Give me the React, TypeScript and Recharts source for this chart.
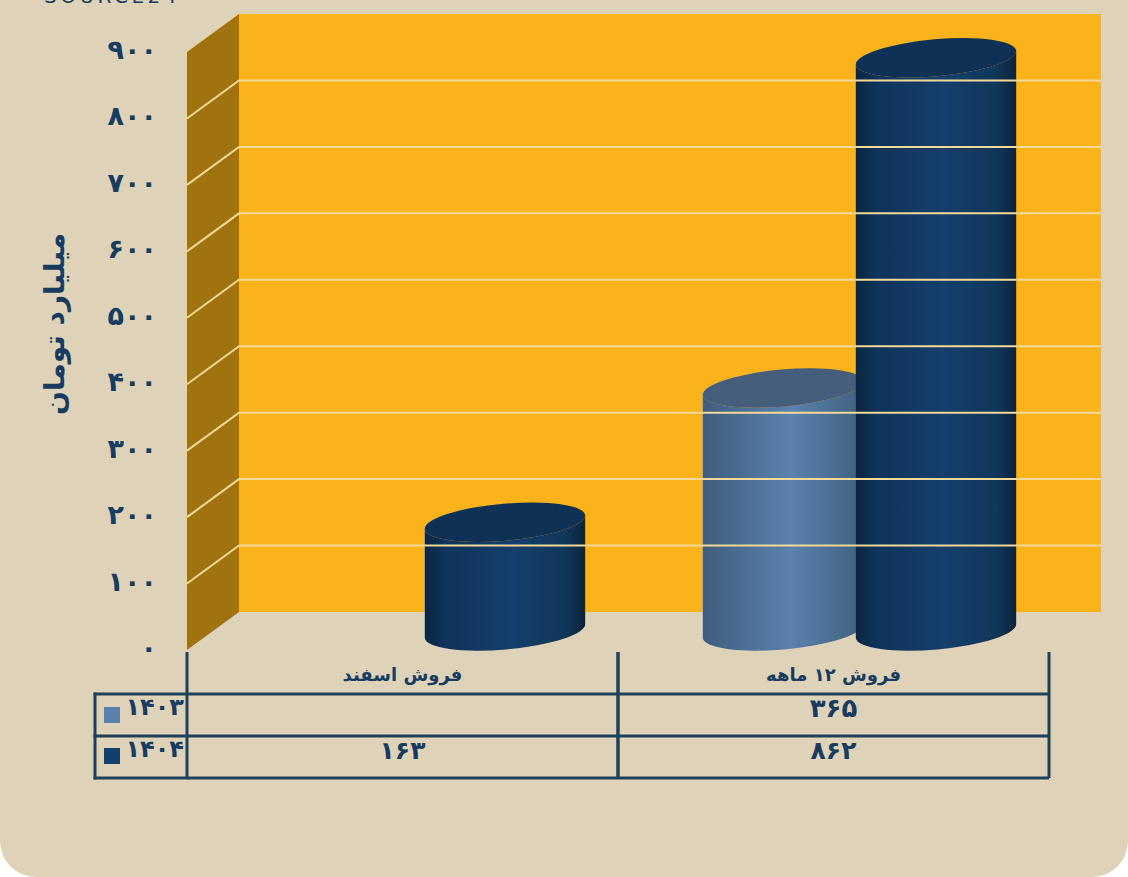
import React from "react";
import { BarChart, Bar, XAxis, YAxis, ReferenceArea, ReferenceLine } from "recharts";

const categories = ["فروش اسفند", "فروش ۱۲ ماهه"];
const sales1403: (number | null)[] = [null, 365];
const sales1404: (number | null)[] = [163, 862];
const yTicks = [0, 100, 200, 300, 400, 500, 600, 700, 800, 900];
const yTickLabels = ["۰", "۱۰۰", "۲۰۰", "۳۰۰", "۴۰۰", "۵۰۰", "۶۰۰", "۷۰۰", "۸۰۰", "۹۰۰"];
const cells1403 = ["", "۳۶۵"];
const cells1404 = ["۱۶۳", "۸۶۲"];
const seriesNames = ["۱۴۰۳", "۱۴۰۴"];

const data = categories.map((name, i) => ({
  name,
  s1403: sales1403[i],
  s1404: sales1404[i],
  cell1403: cells1403[i],
  cell1404: cells1404[i],
}));

const FONT = "'DejaVu Sans', sans-serif";
const INK = "#173c5f";
const RULE = "#1f4059";
const DEPTH_X = 52;
const DEPTH_Y = 38;
const BAND = 431;

// 3d cylinder, sits in the middle of the wall depth
function Cylinder(props: any) {
  const { x, y, width, height, value, body, top } = props;
  if (value == null || !height) return null;
  const rx = width / 2;
  const ry = 18.5;
  const tilt = 5;
  const cx = x + rx + DEPTH_X / 2 - 0.5;
  const topY = y - DEPTH_Y / 2 - 0.5;
  const botY = y + height - DEPTH_Y / 2;
  const ex = rx * Math.cos((tilt * Math.PI) / 180);
  const ey = rx * Math.sin((tilt * Math.PI) / 180);
  const d =
    `M${cx - ex},${topY + ey} L${cx - ex},${botY + ey} ` +
    `A${rx},${ry} ${-tilt} 0 0 ${cx + ex},${botY - ey} ` +
    `L${cx + ex},${topY - ey} A${rx},${ry} ${-tilt} 0 1 ${cx - ex},${topY + ey} Z`;
  return (
    <g>
      <path d={d} fill={body} />
      <ellipse cx={cx} cy={topY} rx={rx} ry={ry} fill={top} transform={`rotate(${-tilt} ${cx} ${topY})`} />
    </g>
  );
}

function Walls(props: any) {
  const { x, y, width, height } = props;
  const b = y + height;
  return (
    <g>
      <polygon
        points={`${x},${y} ${x + DEPTH_X},${y - DEPTH_Y} ${x + DEPTH_X},${b - DEPTH_Y} ${x},${b}`}
        fill="#a0730f"
      />
      <rect x={x + DEPTH_X} y={y - DEPTH_Y} width={width} height={height} fill="#fab31b" />
    </g>
  );
}

function GridLine(props: any) {
  const { x1, x2, y1 } = props;
  return (
    <polyline
      points={`${x1},${y1} ${x1 + DEPTH_X},${y1 - DEPTH_Y} ${x2 + DEPTH_X},${y1 - DEPTH_Y}`}
      fill="none"
      stroke="#f2d99a"
      strokeWidth={2}
    />
  );
}

function YTick(props: any) {
  const { x, y, payload } = props;
  return (
    <text x={x - 30} y={y + 7} textAnchor="end" fontFamily={FONT} fontWeight={700} fontSize={27} fill={INK}>
      {yTickLabels[yTicks.indexOf(payload.value)]}
    </text>
  );
}

// category label plus the data table rows under the plot
function TableTick(props: any) {
  const { payload, index } = props;
  const cx = payload.coordinate;
  const row = data[payload.index ?? index];
  const l = cx - BAND / 2;
  const r = cx + BAND / 2;
  const txt = { fontFamily: FONT, fontWeight: 700, fill: INK, textAnchor: "middle" as const };
  return (
    <g>
      <line x1={l} x2={l} y1={652} y2={778} stroke={RULE} strokeWidth={3} />
      <line x1={r} x2={r} y1={652} y2={778} stroke={RULE} strokeWidth={3} />
      <line x1={l} x2={r} y1={694} y2={694} stroke={RULE} strokeWidth={3} />
      <line x1={l} x2={r} y1={736} y2={736} stroke={RULE} strokeWidth={3} />
      <line x1={l} x2={r} y1={778} y2={778} stroke={RULE} strokeWidth={3} />
      <text x={cx} y={681} fontSize={18} {...txt}>{row.name}</text>
      <text x={cx} y={717} fontSize={26} {...txt}>{row.cell1403}</text>
      <text x={cx} y={759} fontSize={25} {...txt}>{row.cell1404}</text>
      {(payload.index ?? index) === 0 && (
        <g strokeLinecap="square">
          <line x1={95} x2={95} y1={694} y2={778} stroke={RULE} strokeWidth={3} />
          <line x1={95} x2={l} y1={694} y2={694} stroke={RULE} strokeWidth={3} />
          <line x1={95} x2={l} y1={736} y2={736} stroke={RULE} strokeWidth={3} />
          <line x1={95} x2={l} y1={778} y2={778} stroke={RULE} strokeWidth={3} />
          <rect x={104} y={707} width={16} height={16} fill="#5b80ab" />
          <rect x={104} y={748} width={16} height={16} fill="#12406e" />
          <text x={184} y={715} fontSize={24} {...txt} textAnchor="end">{seriesNames[0]}</text>
          <text x={184} y={757} fontSize={24} {...txt} textAnchor="end">{seriesNames[1]}</text>
        </g>
      )}
    </g>
  );
}

export default function App() {
  return (
    <div
      style={{
        position: "absolute",
        top: 0,
        left: 0,
        width: 1128,
        height: 877,
        background: "#ded3b9",
        borderRadius: "0 0 36px 36px",
        overflow: "hidden",
      }}
    >
      <div
        style={{
          position: "absolute",
          left: 44,
          top: -16,
          fontFamily: FONT,
          fontSize: 20,
          letterSpacing: 3.5,
          color: INK,
          whiteSpace: "nowrap",
        }}
      >
        SOURCE24
      </div>
      <BarChart
        width={1128}
        height={877}
        data={data}
        barSize={161}
        barGap={-8}
        margin={{ top: 52, right: 79, bottom: 197, left: 27 }}
      >
        <defs>
          <linearGradient id="dark" x1="0" y1="0" x2="1" y2="0">
            <stop offset="0" stopColor="#0a2540" />
            <stop offset="0.12" stopColor="#0f3359" />
            <stop offset="0.55" stopColor="#153f6c" />
            <stop offset="0.88" stopColor="#103759" />
            <stop offset="1" stopColor="#0b233a" />
          </linearGradient>
          <linearGradient id="light" x1="0" y1="0" x2="1" y2="0">
            <stop offset="0" stopColor="#3f5d7e" />
            <stop offset="0.55" stopColor="#5b82ad" />
            <stop offset="1" stopColor="#3f5f80" />
          </linearGradient>
        </defs>
        <XAxis
          dataKey="name"
          axisLine={false}
          tickLine={false}
          interval={0}
          height={30}
          tick={<TableTick />}
        />
        <YAxis
          domain={[0, 900]}
          ticks={yTicks}
          width={160}
          axisLine={false}
          tickLine={false}
          tickMargin={0}
          tickSize={0}
          tick={<YTick />}
          label={{
            value: "میلیارد تومان",
            angle: -90,
            position: "insideLeft",
            dx: 22,
            dy: 64,
            style: { fontFamily: FONT, fontWeight: 700, fontSize: 28, fill: INK },
          }}
        />
        <ReferenceArea y1={0} y2={900} shape={<Walls />} ifOverflow="visible" />
        {yTicks.slice(1, -1).map((t) => (
          <ReferenceLine key={t} y={t} shape={<GridLine />} ifOverflow="visible" />
        ))}
        <Bar dataKey="s1403" isAnimationActive={false} shape={<Cylinder body="url(#light)" top="#445e7c" />} />
        <Bar dataKey="s1404" isAnimationActive={false} shape={<Cylinder body="url(#dark)" top="#0e3155" />} />
      </BarChart>
    </div>
  );
}
